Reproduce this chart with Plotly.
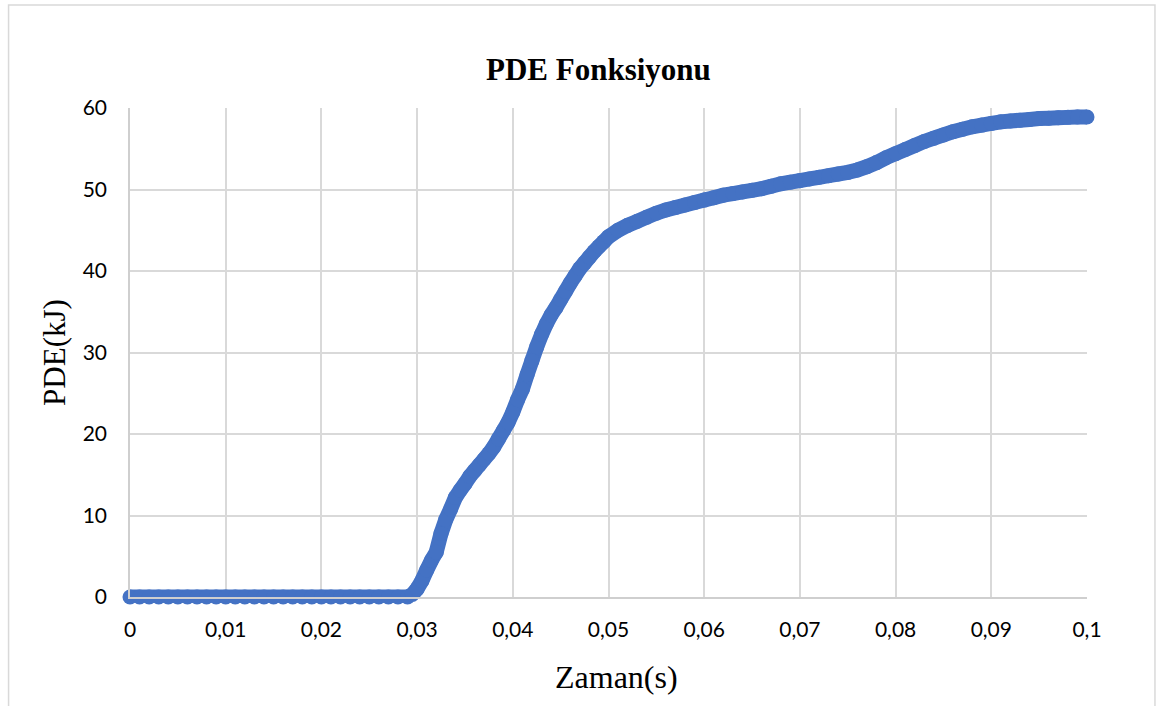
import plotly.graph_objects as go

# Time (s) and PDE (kJ) values
flat_t = [0.000, 0.001, 0.002, 0.003, 0.004, 0.005, 0.006, 0.007, 0.008, 0.009,
          0.010, 0.011, 0.012, 0.013, 0.014, 0.015, 0.016, 0.017, 0.018, 0.019,
          0.020, 0.021, 0.022, 0.023, 0.024, 0.025, 0.026, 0.027, 0.028, 0.029]
flat_v = [0.0, 0.0, 0.0, 0.0, 0.0, 0.0, 0.0, 0.0, 0.0, 0.0,
          0.0, 0.0, 0.0, 0.0, 0.0, 0.0, 0.0, 0.0, 0.0, 0.0,
          0.0, 0.0, 0.0, 0.0, 0.0, 0.0, 0.0, 0.0, 0.0, 0.0]

rise_t = [0.0295, 0.0300, 0.0305, 0.0310, 0.0315, 0.0320, 0.0325, 0.0330, 0.0335, 0.0340,
          0.0345, 0.0350, 0.0355, 0.0360, 0.0365, 0.0370, 0.0375, 0.0380, 0.0385, 0.0390,
          0.0395, 0.0400, 0.0405, 0.0410, 0.0415, 0.0420, 0.0425, 0.0430, 0.0435, 0.0440,
          0.0445, 0.0450, 0.0455, 0.0460, 0.0465, 0.0470, 0.0475, 0.0480, 0.0485, 0.0490,
          0.0495, 0.0500]
rise_v = [0.3, 1.0, 2.0, 3.3, 4.5, 5.5, 7.8, 9.5, 10.8, 12.2,
          13.1, 13.9, 14.8, 15.5, 16.2, 16.9, 17.6, 18.4, 19.4, 20.4,
          21.4, 22.7, 24.2, 25.5, 27.3, 29.0, 30.7, 32.2, 33.5, 34.6,
          35.5, 36.5, 37.5, 38.5, 39.4, 40.3, 41.0, 41.7, 42.4, 43.0,
          43.6, 44.2]

tail_t = [0.051, 0.052, 0.053, 0.054, 0.055, 0.056, 0.057, 0.058, 0.059, 0.060,
          0.061, 0.062, 0.063, 0.064, 0.065, 0.066, 0.067, 0.068, 0.069, 0.070,
          0.071, 0.072, 0.073, 0.074, 0.075, 0.076, 0.077, 0.078, 0.079, 0.080,
          0.081, 0.082, 0.083, 0.084, 0.085, 0.086, 0.087, 0.088, 0.089, 0.090,
          0.091, 0.092, 0.093, 0.094, 0.095, 0.096, 0.097, 0.098, 0.099, 0.100]
tail_v = [45.0, 45.6, 46.1, 46.6, 47.1, 47.5, 47.8, 48.1, 48.4, 48.7,
          49.0, 49.3, 49.5, 49.7, 49.9, 50.1, 50.4, 50.7, 50.9, 51.1,
          51.3, 51.5, 51.7, 51.9, 52.1, 52.4, 52.8, 53.3, 53.9, 54.4,
          54.9, 55.4, 55.9, 56.3, 56.7, 57.1, 57.4, 57.7, 57.9, 58.1,
          58.3, 58.4, 58.5, 58.6, 58.7, 58.75, 58.8, 58.85, 58.9, 58.9]

x_tickvals = [0, 0.01, 0.02, 0.03, 0.04, 0.05, 0.06, 0.07, 0.08, 0.09, 0.1]
x_ticktext = ["0", "0,01", "0,02", "0,03", "0,04", "0,05", "0,06", "0,07", "0,08", "0,09", "0,1"]
y_tickvals = [0, 10, 20, 30, 40, 50, 60]
y_ticktext = ["0", "10", "20", "30", "40", "50", "60"]

t = flat_t + rise_t + tail_t
v = flat_v + rise_v + tail_v

W, H = 1172, 706
L, R, T, B = 129.5, 85, 108, 109
pw, ph = W - L - R, H - T - B

BLUE = "#4472C4"
GRID = "#d9d9d9"

fig = go.Figure()
fig.add_trace(go.Scatter(
    x=t, y=v, mode="lines+markers",
    line=dict(color=BLUE, width=15, simplify=False),
    marker=dict(color=BLUE, size=15, line=dict(width=0)),
    showlegend=False, hoverinfo="x+y", cliponaxis=False,
))

tick_font = dict(family="Lato, 'Open Sans', sans-serif", size=21, color="#000000")
serif = "'Liberation Serif', 'Times New Roman', serif"

fig.update_layout(
    width=W, height=H,
    margin=dict(l=L, r=R, t=T, b=B),
    paper_bgcolor="white", plot_bgcolor="white",
    xaxis=dict(
        range=[0, 0.1], tickvals=x_tickvals, ticktext=x_ticktext,
        showgrid=True, gridcolor=GRID, gridwidth=1.5,
        zeroline=False, showline=True, linecolor="#cfcfcf", linewidth=1.5,
        ticks="", tickfont=tick_font, ticklabelstandoff=13,
    ),
    yaxis=dict(
        range=[0, 60], tickvals=y_tickvals, ticktext=y_ticktext,
        showgrid=True, gridcolor=GRID, gridwidth=1.5,
        zeroline=False, showline=True, linecolor="#cfcfcf", linewidth=1.5,
        ticks="", tickfont=tick_font, ticklabelstandoff=17,
        title=dict(text="PDE(kJ)", font=dict(family=serif, size=31, color="#000000"),
                   standoff=8),
    ),
    shapes=[dict(
        type="rect", xref="paper", yref="paper",
        x0=(8 - L) / pw, x1=(1155 - L) / pw,
        y0=-(B + 8) / ph, y1=(ph + T - 5) / ph,
        line=dict(color=GRID, width=1.5), fillcolor="rgba(0,0,0,0)", layer="below",
    )],
    annotations=[
        dict(
            text="<b>PDE Fonksiyonu</b>", xref="paper", yref="paper",
            x=(598 - L) / pw, y=(ph + T - 69) / ph, xanchor="center", yanchor="middle",
            showarrow=False, font=dict(family=serif, size=31, color="#000000"),
        ),
        dict(
            text="Zaman(s)", xref="paper", yref="paper",
            x=(616 - L) / pw, y=(ph + T - 677) / ph, xanchor="center", yanchor="middle",
            showarrow=False, font=dict(family=serif, size=32, color="#000000"),
        ),
    ],
)

fig.write_html("out.html")
